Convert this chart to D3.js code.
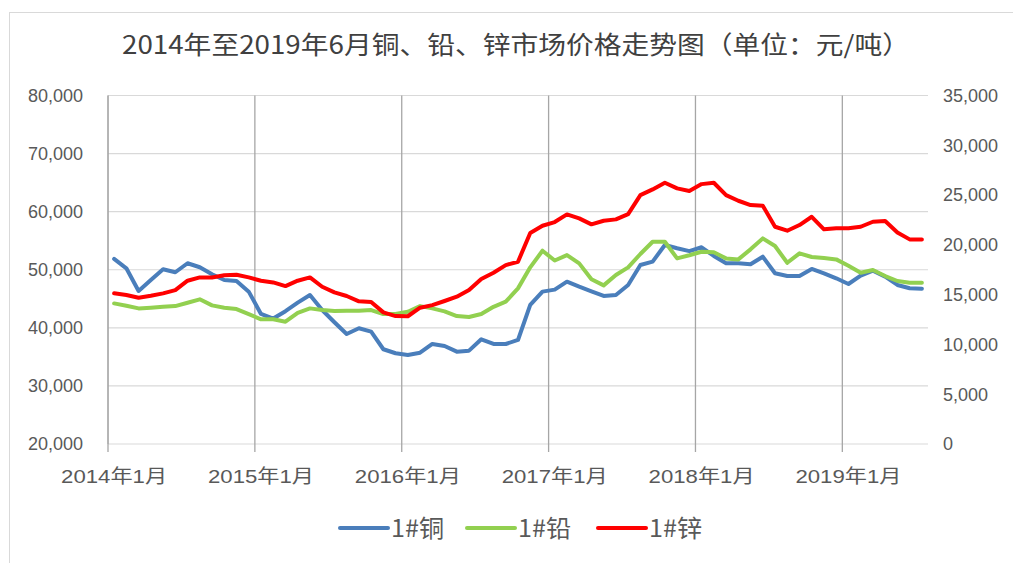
<!DOCTYPE html>
<html><head><meta charset="utf-8">
<script src="https://cdn.jsdelivr.net/npm/d3@7"></script>
<style>
html,body{margin:0;padding:0;background:#fff;}
svg{display:block;}
text{font-family:"Liberation Sans","Noto Sans CJK SC",sans-serif;fill:#595959;}
</style></head>
<body>
<svg id="chart" width="1013" height="563"></svg>
<script>
const title = "2014年至2019年6月铜、铅、锌市场价格走势图（单位：元/吨）";
const startYear = 2014;
const monthCount = 67;
const seriesNames = ["1#铜", "1#铅", "1#锌"];
const seriesColors = ["#4a7ebb", "#92d050", "#ff0000"];
const leftTicks = [20000, 30000, 40000, 50000, 60000, 70000, 80000];
const rightTicks = [0, 5000, 10000, 15000, 20000, 25000, 30000, 35000];
const xTickLabels = ["2014年1月", "2015年1月", "2016年1月", "2017年1月", "2018年1月", "2019年1月"];

const copper = [51860, 50250, 46350, 48240, 50080, 49570, 51120, 50430, 49220, 48240, 48070, 46230,
  42390, 41600, 42870, 44330, 45660, 43070, 40960, 38940, 39920, 39340, 36310, 35620,
  35330, 35720, 37220, 36880, 35900, 36070, 38030, 37220, 37220, 37910, 43940, 46230,
  46580, 47950, 47090, 46290, 45490, 45660, 47380, 50820, 51390, 54270, 53700, 53200,
  53870, 52370, 51120, 51120, 50940, 52250, 49390, 48930, 48930, 50140, 49390, 48530,
  47550, 48980, 49840, 48810, 47380, 46810, 46740];
const lead = [14120, 13890, 13620, 13690, 13780, 13850, 14190, 14530, 13920, 13690, 13550, 13050,
  12520, 12520, 12280, 13180, 13620, 13450, 13350, 13380, 13380, 13450, 13050, 13050,
  13280, 13850, 13620, 13320, 12850, 12750, 13050, 13780, 14290, 15630, 17740, 19410,
  18430, 18970, 18140, 16540, 15930, 16970, 17740, 19080, 20310, 20310, 18640, 18960,
  19310, 19250, 18640, 18540, 19550, 20650, 19880, 18200, 19150, 18780, 18670, 18540,
  17900, 17200, 17470, 16870, 16370, 16200, 16200];
const zinc = [15130, 14960, 14690, 14890, 15130, 15460, 16400, 16730, 16730, 16940, 17000, 16730,
  16400, 16230, 15860, 16400, 16730, 15790, 15230, 14860, 14330, 14260, 13220, 12850,
  12830, 13690, 13950, 14360, 14790, 15460, 16570, 17200, 17970, 18300, 21200, 21920,
  22290, 23060, 22660, 22060, 22420, 22560, 23090, 25000, 25570, 26240, 25670, 25410,
  26100, 26240, 25000, 24430, 24000, 23930, 21820, 21420, 21990, 22820, 21560, 21660,
  21660, 21820, 22320, 22390, 21250, 20550, 20550];

const svg = d3.select("#chart");
const L = 108, R = 928, T = 95.5, B = 444;

// outer border
svg.append("rect").attr("x", 9.5).attr("y", 12.5).attr("width", 1100).attr("height", 700)
  .attr("fill", "none").attr("stroke", "#d9d9d9").attr("stroke-width", 1);

const x = d3.scaleLinear().domain([0, monthCount]).range([L, R]);
const yL = d3.scaleLinear().domain([20000, 80000]).range([B, T]);
const yR = d3.scaleLinear().domain([0, 35000]).range([B, T]);
const fmt = d3.format(",");

// horizontal gridlines
svg.append("g").selectAll("line").data(leftTicks).join("line")
  .attr("x1", L).attr("x2", R).attr("y1", d => yL(d)).attr("y2", d => yL(d))
  .attr("stroke", "#d9d9d9").attr("stroke-width", 1.2);

// vertical year gridlines + ticks
const yearIdx = d3.range(0, monthCount, 12);
svg.append("g").selectAll("line").data(yearIdx).join("line")
  .attr("x1", d => x(d)).attr("x2", d => x(d)).attr("y1", T).attr("y2", B + 8)
  .attr("stroke", "#a6a6a6").attr("stroke-width", 1.3);

// left axis line
svg.append("line").attr("x1", L).attr("x2", L).attr("y1", T).attr("y2", B)
  .attr("stroke", "#a6a6a6").attr("stroke-width", 1);

// left axis labels
svg.append("g").selectAll("text").data(leftTicks).join("text")
  .attr("x", 83).attr("y", d => yL(d)).attr("dy", "0.35em").attr("text-anchor", "end")
  .attr("font-size", 18).text(d => fmt(d));
// right axis labels
svg.append("g").selectAll("text").data(rightTicks).join("text")
  .attr("x", 943).attr("y", d => yR(d)).attr("dy", "0.35em").attr("text-anchor", "start")
  .attr("font-size", 18).text(d => fmt(d));
// x labels
svg.append("g").selectAll("text").data(xTickLabels).join("text")
  .attr("x", (d, i) => x(i * 12 + 0.5) - 53).attr("y", 483).attr("text-anchor", "start")
  .attr("font-size", 19).attr("textLength", 106).attr("lengthAdjust", "spacingAndGlyphs")
  .text(d => d);

// lines
const series = [
  {name: seriesNames[0], values: copper, y: yL, color: seriesColors[0]},
  {name: seriesNames[1], values: lead, y: yR, color: seriesColors[1]},
  {name: seriesNames[2], values: zinc, y: yR, color: seriesColors[2]}
];
series.forEach(s => {
  const line = d3.line().x((d, i) => x(i + 0.5)).y(d => s.y(d));
  svg.append("path").datum(s.values).attr("d", line)
    .attr("fill", "none").attr("stroke", s.color).attr("stroke-width", 4)
    .attr("stroke-linejoin", "round").attr("stroke-linecap", "round");
});

// title
svg.append("text").attr("x", 516).attr("y", 54).attr("text-anchor", "middle")
  .attr("font-size", 25).attr("textLength", 788).attr("lengthAdjust", "spacingAndGlyphs")
  .style("font-family", "'Noto Sans CJK SC',sans-serif").style("fill", "#404040")
  .text(title);

// legend
const legX = [340, 467, 598];
series.forEach((s, i) => {
  svg.append("line").attr("x1", legX[i]).attr("x2", legX[i] + 48).attr("y1", 528).attr("y2", 528)
    .attr("stroke", s.color).attr("stroke-width", 4).attr("stroke-linecap", "round");
  svg.append("text").attr("x", legX[i] + 51).attr("y", 528).attr("dy", "0.36em")
    .attr("font-size", 24).attr("textLength", 53).attr("lengthAdjust", "spacingAndGlyphs")
    .style("font-family", "'Noto Sans CJK SC',sans-serif").text(s.name);
});
</script>
</body></html>
